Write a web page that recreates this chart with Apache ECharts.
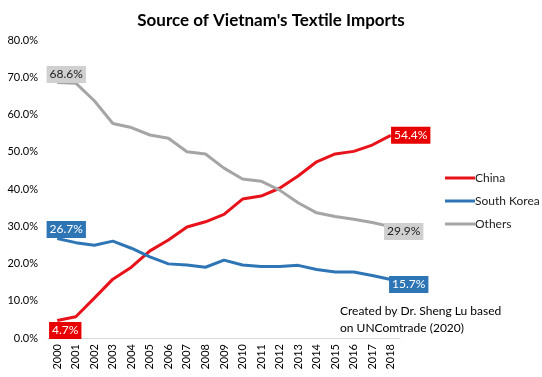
<!DOCTYPE html>
<html>
<head>
<meta charset="utf-8">
<script src="https://cdn.jsdelivr.net/npm/echarts@6/dist/echarts.min.js"></script>
<style>
html, body { margin: 0; padding: 0; background: #fff; }
#chart { width: 542px; height: 377px; }
</style>
</head>
<body>
<div id="chart"></div>
<script>
const years = ['2000', '2001', '2002', '2003', '2004', '2005', '2006', '2007', '2008', '2009',
  '2010', '2011', '2012', '2013', '2014', '2015', '2016', '2017', '2018'];
const china = [4.7, 5.7, 10.7, 15.8, 19.0, 23.4, 26.3, 29.8, 31.2, 33.2,
  37.3, 38.1, 40.2, 43.5, 47.3, 49.4, 50.1, 51.8, 54.4];
const southKorea = [26.7, 25.6, 24.9, 26.0, 24.1, 21.8, 19.9, 19.6, 19.0, 20.9,
  19.6, 19.2, 19.2, 19.5, 18.4, 17.7, 17.7, 16.8, 15.7];
const others = [68.6, 68.4, 63.7, 57.6, 56.5, 54.5, 53.6, 50.0, 49.4, 45.6,
  42.7, 42.1, 39.7, 36.3, 33.6, 32.6, 31.9, 31.0, 29.9];

const chart = echarts.init(document.getElementById('chart'));
const font = 'Lato, "Open Sans", sans-serif';

// only first and last points get a label box
function withEndLabels(values, bg, fg, firstOffset, lastOffset) {
  return values.map((v, i) => {
    if (i !== 0 && i !== values.length - 1) return v;
    return {
      value: v,
      label: {
        show: true,
        position: 'inside',
        offset: i === 0 ? firstOffset : lastOffset,
        formatter: p => p.value.toFixed(1) + '%',
        backgroundColor: bg,
        color: fg,
        padding: [3, 3, 2, 3],
        fontSize: 12,
        fontFamily: font
      }
    };
  });
}

const option = {
  backgroundColor: '#fff',
  animation: false,
  title: {
    text: "Source of Vietnam's Textile Imports",
    left: 'center',
    top: 7,
    textStyle: { fontSize: 17, fontWeight: 'bold', color: '#000', fontFamily: font }
  },
  legend: {
    orient: 'vertical',
    left: 440,
    top: 167,
    itemWidth: 30,
    itemHeight: 3,
    itemGap: 11,
    icon: 'rect',
    textStyle: { fontSize: 12, color: '#222', fontFamily: font, padding: [0, 0, 0, -5] },
    data: ['China', 'South Korea', 'Others']
  },
  grid: { left: 48, right: 142, top: 40, bottom: 39, containLabel: false },
  xAxis: {
    type: 'category',
    data: years,
    boundaryGap: true,
    axisLine: { lineStyle: { color: '#d9d9d9', width: 1 } },
    axisTick: { show: false },
    axisLabel: { rotate: 90, color: '#000', fontSize: 11, fontFamily: font, margin: 6, interval: 0 }
  },
  yAxis: {
    type: 'value',
    min: 0,
    max: 80,
    interval: 10,
    splitLine: { show: false },
    axisLine: { show: false },
    axisTick: { show: false },
    axisLabel: { color: '#000', fontSize: 11, fontFamily: font, margin: 10,
      formatter: v => v.toFixed(1) + '%' }
  },
  series: [
    {
      name: 'China', type: 'line', symbol: 'circle', symbolSize: 0,
      lineStyle: { color: '#e8121b', width: 3 }, itemStyle: { color: '#e8121b' },
      data: withEndLabels(china, '#e80000', '#fff', [8, 10], [20, 0])
    },
    {
      name: 'South Korea', type: 'line', symbol: 'circle', symbolSize: 0,
      lineStyle: { color: '#2e75b6', width: 3 }, itemStyle: { color: '#2e75b6' },
      data: withEndLabels(southKorea, '#2e75b6', '#fff', [9, -9], [18, 5])
    },
    {
      name: 'Others', type: 'line', symbol: 'circle', symbolSize: 0,
      lineStyle: { color: '#a5a5a5', width: 3 }, itemStyle: { color: '#a5a5a5' },
      data: withEndLabels(others, '#d0d0d0', '#222', [9, -8], [13, 5])
    }
  ],
  graphic: [
    {
      type: 'text',
      left: 340,
      top: 303,
      z: 10,
      style: {
        text: 'Created by Dr. Sheng Lu based\non UNComtrade (2020)',
        fontSize: 12,
        lineHeight: 17,
        fill: '#000',
        fontFamily: font,
        backgroundColor: '#fff'
      }
    }
  ]
};
chart.setOption(option);
</script>
</body>
</html>
